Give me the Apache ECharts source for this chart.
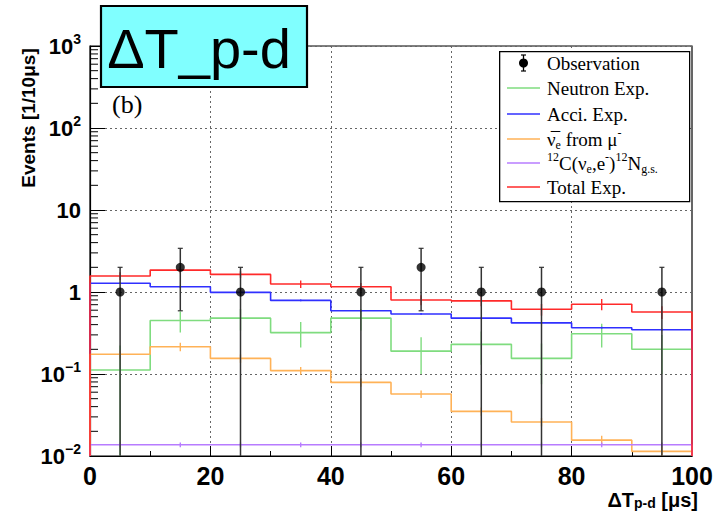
<!DOCTYPE html>
<html>
<head>
<meta charset="utf-8">
<script src="https://cdn.jsdelivr.net/npm/echarts@6/dist/echarts.min.js"></script>
<style>html,body{margin:0;padding:0;background:#fff;}#c{width:717px;height:511px;}</style>
</head>
<body>
<div id="c"></div>
<script>
// ---- data ----
const binEdges   = [0, 10, 20, 30, 40, 50, 60, 70, 80, 90, 100];
const binCenters = [5, 15, 25, 35, 45, 55, 65, 75, 85, 95];
const observation    = [1, 2, 1, 0, 1, 2, 1, 1, 0, 1];
const observationErr = [1, 1.41, 1, 0, 1, 1.41, 1, 1, 0, 1];
const neutronExp = [0.112, 0.45, 0.48, 0.32, 0.48, 0.19, 0.23, 0.155, 0.31, 0.20];
const neutronErr = [0.11, 0.13, 0.14, 0.11, 0.14, 0.09, 0.10, 0.08, 0.10, 0.10];
const acciExp    = [1.28, 1.16, 0.99, 0.79, 0.59, 0.54, 0.48, 0.42, 0.367, 0.347];
const acciErr    = [0.03, 0.03, 0.02, 0.02, 0.015, 0.013, 0.012, 0.01, 0.009, 0.009];
const nueExp     = [0.174, 0.215, 0.155, 0.11, 0.079, 0.057, 0.035, 0.026, 0.0156, 0.0114];
const nueErr     = [0.02, 0.025, 0.018, 0.012, 0.009, 0.006, 0.004, 0.003, 0.002, 0.0015];
const cnExp      = [0.0137, 0.0137, 0.0137, 0.0137, 0.0137, 0.0137, 0.0137, 0.0137, 0.0137, 0.0137];
const cnErr      = [0.0009, 0.0009, 0.0009, 0.0009, 0.0009, 0.0009, 0.0009, 0.0009, 0.0009, 0.0009];
const totalExp   = [1.57, 1.85, 1.64, 1.25, 1.16, 0.80, 0.78, 0.615, 0.71, 0.57];
const totalErr   = [0.17, 0.16, 0.15, 0.13, 0.13, 0.11, 0.11, 0.10, 0.11, 0.10];
const xTicks = [0, 20, 40, 60, 80, 100];
const yTickValues = [0.01, 0.1, 1, 10, 100, 1000];
const yTickLabels = ['10{s|\u22122}', '10{s|\u22121}', '1', '10', '10{s|2}', '10{s|3}'];
const yMin = 0.01, yMax = 1000;

// y minor ticks (2..9 in each decade) — axis decoration
const yMinorTicks = [];
for (let d = 0; d < yTickValues.length - 1; d++) {
  for (let k = 2; k <= 9; k++) yMinorTicks.push(+(yTickValues[d] * k).toPrecision(3));
}

const C = {
  neutron: '#7fdc7f',
  acci: '#3030ff',
  nue: '#ffb257',
  cn: '#b77cff',
  total: '#ff2a2a',
  obs: '#000000'
};

function stepData(vals) {
  const d = [[binEdges[0], yMin]];
  for (let i = 0; i < vals.length; i++) d.push([binEdges[i], vals[i]]);
  d.push([binEdges[binEdges.length - 1], vals[vals.length - 1]]);
  d.push([binEdges[binEdges.length - 1], yMin]);
  return d;
}
function histSeries(name, vals, color) {
  return {
    name: name, type: 'line', step: 'end', data: stepData(vals),
    showSymbol: false, symbol: 'none', silent: true, animation: false,
    lineStyle: { color: color, width: 1.6 }, z: 3
  };
}
function errSeries(vals, errs, color, z, width, cap) {
  return {
    type: 'custom', silent: true, animation: false, z: z, clip: true,
    data: binCenters.map((x, i) => [x, vals[i], errs[i]]),
    renderItem: function (params, api) {
      const x = api.value(0), v = api.value(1), e = api.value(2);
      if (!(v > 0)) return null;
      const lo = Math.max(v - e, yMin), hi = v + e;
      const p1 = api.coord([x, hi]), p2 = api.coord([x, lo]);
      const children = [{ type: 'line', shape: { x1: p1[0], y1: p1[1], x2: p2[0], y2: p2[1] },
        style: { stroke: color, lineWidth: width } }];
      if (cap) {
        children.push({ type: 'line', shape: { x1: p1[0] - 2.5, y1: p1[1], x2: p1[0] + 2.5, y2: p1[1] }, style: { stroke: color, lineWidth: 1.2 } });
        if (v - e > yMin) children.push({ type: 'line', shape: { x1: p2[0] - 2.5, y1: p2[1], x2: p2[0] + 2.5, y2: p2[1] }, style: { stroke: color, lineWidth: 1.2 } });
      }
      return { type: 'group', children: children };
    }
  };
}

const chart = echarts.init(document.getElementById('c'), null, { renderer: 'svg' });
const serif = '"Liberation Serif", "Times New Roman", serif';
const sans = '"Liberation Sans", Arial, Helvetica, sans-serif';
const legendRows = [63, 88, 114, 139, 163, 187];
const legendRich = {
  sup: { fontSize: 12, fontFamily: serif, verticalAlign: 'top', lineHeight: 12 },
  sub: { fontSize: 12, fontFamily: serif, verticalAlign: 'bottom', lineHeight: 12 }
};
const legendTexts = [
  'Observation',
  'Neutron Exp.',
  'Acci. Exp.',
  '\u03BD\u0305{sub|e} from \u03BC{sup|-}',
  '{sup|12}C(\u03BD{sub|e},e{sup|-}){sup|12}N{sub|g.s.}',
  'Total Exp.'
];
const legendColors = [null, C.neutron, C.acci, C.nue, C.cn, C.total];

const graphic = [];
graphic.push({ type: 'rect', left: 499, top: 51, shape: { width: 190, height: 150 },
  style: { fill: '#fff', stroke: '#000', lineWidth: 1.3 }, z: 50 });
legendRows.forEach((y, i) => {
  if (legendColors[i]) {
    graphic.push({ type: 'line', shape: { x1: 507, y1: y, x2: 540, y2: y },
      style: { stroke: legendColors[i], lineWidth: 1.6 }, z: 51 });
  } else {
    graphic.push({ type: 'line', shape: { x1: 523.5, y1: y - 8, x2: 523.5, y2: y + 8 }, style: { stroke: '#000', lineWidth: 1.3 }, z: 51 });
    graphic.push({ type: 'line', shape: { x1: 521, y1: y - 8, x2: 526, y2: y - 8 }, style: { stroke: '#000', lineWidth: 1.2 }, z: 51 });
    graphic.push({ type: 'line', shape: { x1: 521, y1: y + 8, x2: 526, y2: y + 8 }, style: { stroke: '#000', lineWidth: 1.2 }, z: 51 });
    graphic.push({ type: 'circle', shape: { cx: 523.5, cy: y, r: 4.5 }, style: { fill: '#000' }, z: 52 });
  }
  graphic.push({ type: 'text', x: 547, y: y, z: 52,
    style: { text: legendTexts[i], fontSize: 19, fontFamily: serif, fill: '#000', lineHeight: 24,
      align: 'left', verticalAlign: 'middle', rich: legendRich } });
});
// title box
graphic.push({ type: 'rect', shape: { x: 101, y: 6, width: 206, height: 81 },
  style: { fill: '#80ffff', stroke: '#000', lineWidth: 2.2 }, z: 60 });
graphic.push({ type: 'text', x: 199, y: 48, z: 61,
  style: { text: '\u0394T_p-d', fontSize: 56, fontFamily: sans, fill: '#000', align: 'center', verticalAlign: 'middle' } });
// panel label
graphic.push({ type: 'text', x: 112, y: 104, z: 20,
  style: { text: '(b)', fontSize: 26, fontFamily: serif, fill: '#000', align: 'left', verticalAlign: 'middle' } });
// y-axis title
graphic.push({ type: 'text', x: 28, y: 118, rotation: Math.PI / 2, z: 20,
  style: { text: 'Events [1/10\u03BCs]', fontSize: 19, fontWeight: 'bold', fontFamily: sans, fill: '#000',
    align: 'center', verticalAlign: 'middle' } });
// x-axis title
graphic.push({ type: 'text', x: 698, y: 500, z: 20,
  style: { text: '\u0394T{sub|p-d} [\u03BCs]', fontSize: 20, fontWeight: 'bold', fontFamily: sans, fill: '#000',
    align: 'right', verticalAlign: 'middle', lineHeight: 20,
    rich: { sub: { fontSize: 14, fontWeight: 'bold', fontFamily: sans, verticalAlign: 'bottom', lineHeight: 14 } } } });

const gridLine = { show: true, lineStyle: { color: '#666', type: [2, 3], width: 1, opacity: 1 } };
const option = {
  backgroundColor: '#fff',
  animation: false,
  grid: { left: 90, right: 25, top: 46, bottom: 55, show: true, borderColor: '#000', borderWidth: 1.2,
    backgroundColor: 'transparent', containLabel: false, outerBoundsMode: 'none', z: 0 },
  xAxis: {
    type: 'value', min: 0, max: 100, interval: 20, z: 1,
    axisLine: { show: true, lineStyle: { color: '#000', width: 1.2 } },
    axisTick: { show: true, inside: true, length: 10, lineStyle: { color: '#000', width: 1 } },
    minorTick: { show: true, splitNumber: 2, length: 5, lineStyle: { color: '#000', width: 1 } },
    splitLine: gridLine,
    axisLabel: { fontSize: 25, fontWeight: 'bold', fontFamily: sans, color: '#000', margin: 7, lineHeight: 25,
      formatter: v => (xTicks.indexOf(v) >= 0 ? String(v) : ''), hideOverlap: false }
  },
  yAxis: {
    type: 'log', logBase: 10, min: yMin, max: yMax, z: 1,
    axisLine: { show: true, lineStyle: { color: '#000', width: 1.2 } },
    axisTick: { show: true, inside: true, length: 15, lineStyle: { color: '#000', width: 1 } },
    splitLine: gridLine,
    axisLabel: { fontSize: 22, fontWeight: 'bold', fontFamily: sans, color: '#000', margin: 9, lineHeight: 28,
      formatter: function (v) {
        let idx = -1;
        yTickValues.forEach((t, i) => { if (Math.abs(Math.log10(v) - Math.log10(t)) < 1e-6) idx = i; });
        return idx >= 0 ? yTickLabels[idx] : '';
      },
      rich: { s: { fontSize: 14, fontWeight: 'bold', fontFamily: sans, color: '#000', verticalAlign: 'top', lineHeight: 14 } },
      hideOverlap: false }
  },
  graphic: graphic,
  series: [
    {
      type: 'custom', silent: true, animation: false, z: 2,
      data: yMinorTicks.map(v => [0, v]),
      renderItem: function (params, api) {
        const p = api.coord([0, api.value(1)]);
        return { type: 'line', shape: { x1: p[0], y1: p[1], x2: p[0] + 8, y2: p[1] }, style: { stroke: '#000', lineWidth: 1 } };
      }
    },
    histSeries('Neutron Exp.', neutronExp, C.neutron),
    errSeries(neutronExp, neutronErr, C.neutron, 3, 1.4, false),
    histSeries('Acci. Exp.', acciExp, C.acci),
    errSeries(acciExp, acciErr, C.acci, 3, 1.4, false),
    histSeries('nue', nueExp, C.nue),
    errSeries(nueExp, nueErr, C.nue, 3, 1.4, false),
    histSeries('12C', cnExp, C.cn),
    errSeries(cnExp, cnErr, C.cn, 3, 1.4, false),
    histSeries('Total Exp.', totalExp, C.total),
    errSeries(totalExp, totalErr, C.total, 3, 1.4, false),
    errSeries(observation, observationErr, '#333', 5, 1.5, true),
    {
      name: 'Observation', type: 'scatter', silent: true, animation: false, z: 6,
      data: binCenters.map((x, i) => [x, observation[i]]).filter(d => d[1] > 0),
      symbol: 'circle', symbolSize: 9, itemStyle: { color: '#000' }
    }
  ]
};
chart.setOption(option);
</script>
</body>
</html>
